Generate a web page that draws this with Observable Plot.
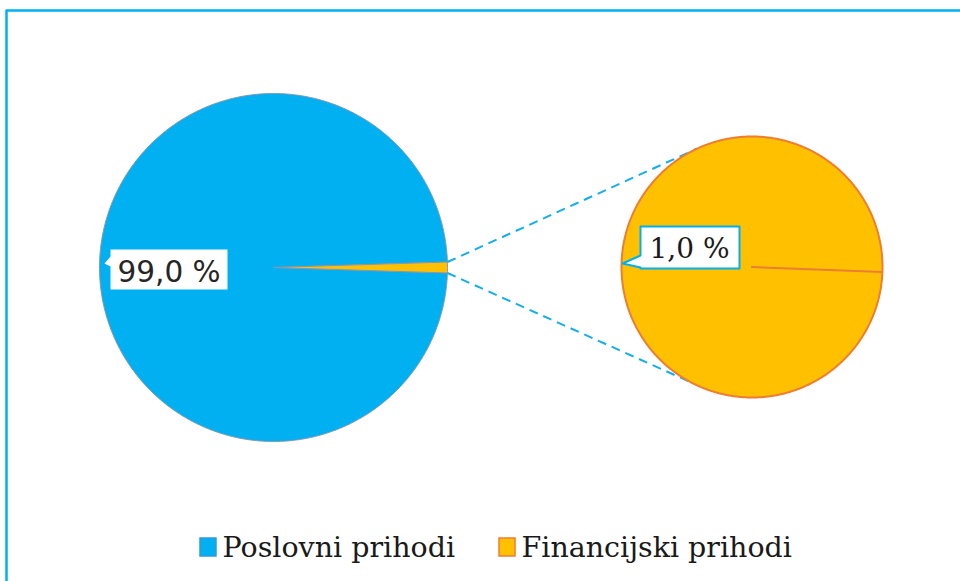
<!DOCTYPE html>
<html>
<head>
<meta charset="utf-8">
<script src="https://cdn.jsdelivr.net/npm/d3@7"></script>
<script src="https://cdn.jsdelivr.net/npm/@observablehq/plot@0.6"></script>
<style>
  html, body { margin: 0; padding: 0; background: #ffffff; }
  #chart svg { display: block; }
</style>
</head>
<body>
<div id="chart"></div>
<script>
// ---- data ----
const categories = ["Poslovni prihodi", "Financijski prihodi"];
const shares = [99.0, 1.0];
const shareLabels = ["99,0 %", "1,0 %"];
const fillColors = ["#00B0F0", "#FFC000"];
const edgeColors = ["#8497B0", "#ED7D31"];

// ---- layout ----
const L = {
  cx1: 273, cy1: 267, r1: 174,
  cx2: 751.5, cy2: 266.5, r2: 130.5,
  rot2: 2.2 * Math.PI / 180,
  connTop: -115 * Math.PI / 180, connBot: 118 * Math.PI / 180,
  legendX: [200, 499], legendY: 538, legendBox: 16, legendH: 18, legendBase: 556
};

const total = d3.sum(shares);
const half = (shares[1] / total) * Math.PI; // half angle of the small slice

function arcPoly(cat, cx, cy, r, a0, a1) {
  const n = Math.max(2, Math.ceil(Math.abs(a1 - a0) / (Math.PI / 360)));
  const pts = [{cat, x: cx, y: cy}];
  for (let i = 0; i <= n; i++) {
    const a = a0 + (a1 - a0) * i / n;
    pts.push({cat, x: cx + r * Math.cos(a), y: cy + r * Math.sin(a)});
  }
  pts.push({cat, x: cx, y: cy});
  return pts;
}

const mainPts = [
  ...arcPoly(categories[0], L.cx1, L.cy1, L.r1, half, 2 * Math.PI - half),
  ...arcPoly(categories[1], L.cx1, L.cy1, L.r1, -half, half)
];
const secondPts = arcPoly(categories[1], L.cx2, L.cy2, L.r2, L.rot2, L.rot2 + 2 * Math.PI);

const connectors = [
  {x1: L.cx1 + L.r1 * Math.cos(-half), y1: L.cy1 + L.r1 * Math.sin(-half),
   x2: L.cx2 + L.r2 * Math.cos(L.connTop), y2: L.cy2 + L.r2 * Math.sin(L.connTop)},
  {x1: L.cx1 + L.r1 * Math.cos(half), y1: L.cy1 + L.r1 * Math.sin(half),
   x2: L.cx2 + L.r2 * Math.cos(L.connBot), y2: L.cy2 + L.r2 * Math.sin(L.connBot)}
];

// callout boxes (left edge pointer)
function callout(id, x0, y0, x1, y1, tipX, tipY, pTop, pBot) {
  return [
    {id, x: x0, y: y0}, {id, x: x1, y: y0}, {id, x: x1, y: y1}, {id, x: x0, y: y1},
    {id, x: x0, y: pBot}, {id, x: tipX, y: tipY}, {id, x: x0, y: pTop}, {id, x: x0, y: y0}
  ];
}
const box1 = callout("b1", 110, 249, 227, 289, 104, 263, 256, 266);
const box2 = callout("b2", 640, 226, 739, 268, 622, 263, 255, 267);

const labels = [
  {text: shareLabels[0], x: 117, y: 281},
  {text: shareLabels[1], x: 649, y: 257}
];

const legend = categories.map((c, i) => ({
  cat: c, x1: L.legendX[i], x2: L.legendX[i] + L.legendBox,
  y1: L.legendY, y2: L.legendY + L.legendH, edge: i === 0 ? "#2E9BD6" : "#ED7D31",
  tx: L.legendX[i] + L.legendBox + 6, ty: L.legendBase
}));

const frame = [{x: 6, y: 600}, {x: 6, y: 10}, {x: 980, y: 10}];

const chart = Plot.plot({
  width: 960,
  height: 581,
  margin: 0,
  x: {type: "identity", axis: null},
  y: {type: "identity", axis: null},
  color: {domain: categories, range: fillColors},
  style: {background: "#ffffff", overflow: "hidden"},
  marks: [
    Plot.line(frame, {x: "x", y: "y", stroke: "#00B0F0", strokeWidth: 2.5}),
    Plot.line(mainPts, {x: "x", y: "y", z: "cat", fill: "cat", stroke: edgeColors[0], strokeWidth: 1, strokeLinejoin: "round"}),
    Plot.link(connectors, {x1: "x1", y1: "y1", x2: "x2", y2: "y2", stroke: "#13AEEB", strokeWidth: 2, strokeDasharray: "9,6"}),
    Plot.line(secondPts, {x: "x", y: "y", fill: fillColors[1], stroke: edgeColors[1], strokeWidth: 2, strokeLinejoin: "round"}),
    Plot.line(box1, {x: "x", y: "y", fill: "#ffffff", stroke: "none"}),
    Plot.line(box2, {x: "x", y: "y", fill: "#ffffff", stroke: "#00B0F0", strokeWidth: 2}),
    Plot.text(labels.slice(0, 1), {x: "x", y: "y", text: "text", textAnchor: "start", lineAnchor: "bottom", fontSize: 29.5, fontFamily: "DejaVu Sans", fill: "#262626"}),
    Plot.text(labels.slice(1), {x: "x", y: "y", text: "text", textAnchor: "start", lineAnchor: "bottom", fontSize: 28, fontFamily: "DejaVu Serif", fill: "#1a1a1a"}),
    Plot.rect(legend, {x1: "x1", x2: "x2", y1: "y1", y2: "y2", fill: "cat", stroke: "edge", strokeWidth: 1.5}),
    Plot.text(legend, {x: "tx", y: "ty", text: "cat", textAnchor: "start", lineAnchor: "bottom", fontSize: 28.5, fontFamily: "DejaVu Serif", fill: "#1a1a1a"})
  ]
});

document.getElementById("chart").appendChild(chart);
</script>
</body>
</html>
